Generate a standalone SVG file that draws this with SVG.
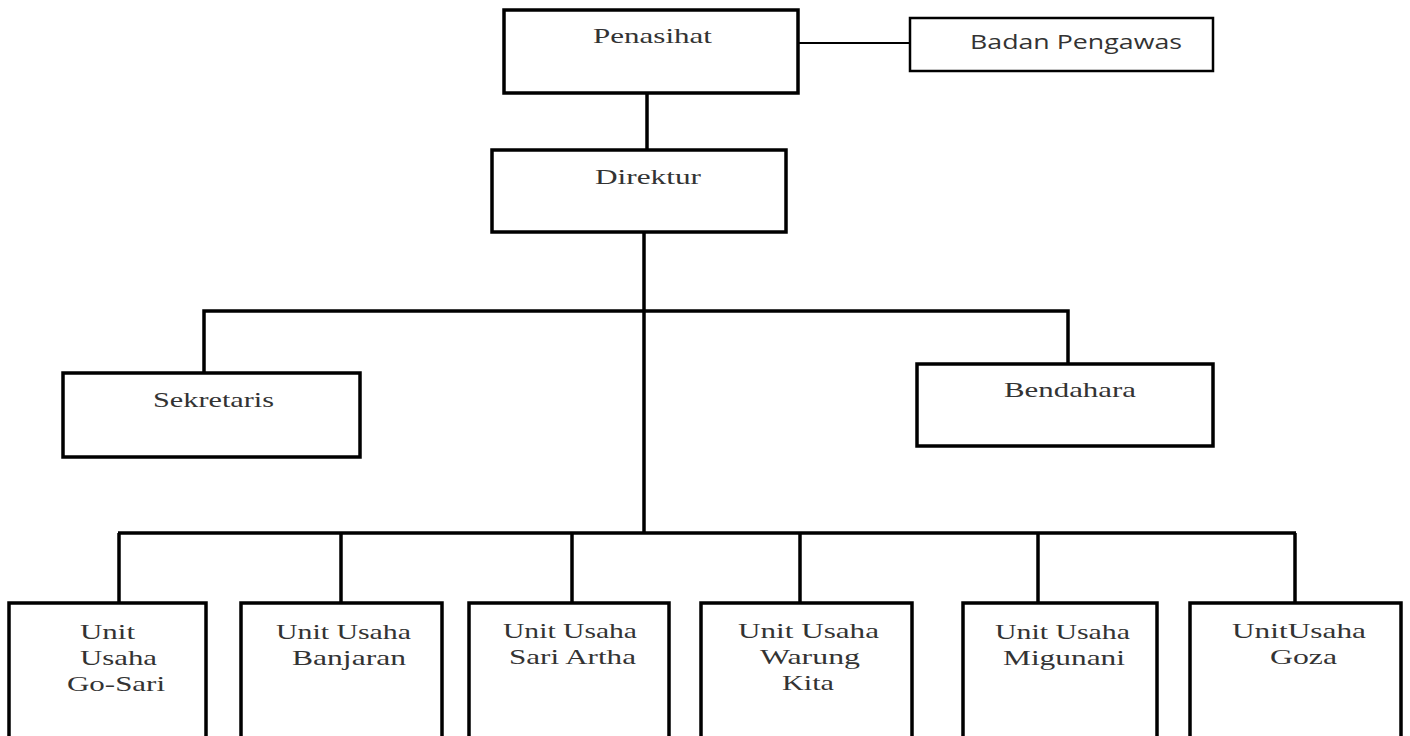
<svg xmlns="http://www.w3.org/2000/svg" width="1410" height="736" viewBox="0 0 1410 736">
<style>
.box{fill:#fff;stroke:#000;stroke-width:3.5}
.thin{fill:#fff;stroke:#000;stroke-width:2.5}
.ln{stroke:#000;stroke-width:3.5;fill:none}
.ln2{stroke:#000;stroke-width:2;fill:none}
.t{font-family:"Liberation Serif","Times New Roman",serif;font-size:21px;fill:#333}
.s{font-family:"Open Sans","Liberation Sans",Arial,sans-serif;font-size:20px;fill:#333}
</style>
<rect width="1410" height="736" fill="#fff"/>
<g id="connectors">
<line class="ln2" x1="798" y1="43" x2="916" y2="43"/>
<line class="ln" x1="647" y1="93" x2="647" y2="150"/>
<line class="ln" x1="644" y1="232" x2="644" y2="533"/>
<polyline class="ln" points="204,373 204,311 1068,311 1068,364"/>
<line class="ln" x1="118" y1="533" x2="1296" y2="533"/>
<line class="ln" x1="119" y1="533" x2="119" y2="603"/>
<line class="ln" x1="341" y1="533" x2="341" y2="603"/>
<line class="ln" x1="572" y1="533" x2="572" y2="603"/>
<line class="ln" x1="800" y1="533" x2="800" y2="603"/>
<line class="ln" x1="1038" y1="533" x2="1038" y2="603"/>
<line class="ln" x1="1295" y1="533" x2="1295" y2="603"/>
</g>
<g id="penasihat">
<rect class="box" x="504" y="10" width="294" height="83"/>
<text class="t" transform="scale(1.45,1)" x="408.97" y="43" textLength="82.07" lengthAdjust="spacingAndGlyphs">Penasihat</text>
</g>
<g id="badan-pengawas">
<rect class="thin" x="910" y="18" width="303" height="53"/>
<text class="s" transform="scale(1.35,1)" x="718.52" y="49" textLength="157.04" lengthAdjust="spacingAndGlyphs">Badan Pengawas</text>
</g>
<g id="direktur">
<rect class="box" x="492" y="150" width="294" height="82"/>
<text class="t" transform="scale(1.45,1)" x="410.34" y="184" textLength="73.10" lengthAdjust="spacingAndGlyphs">Direktur</text>
</g>
<g id="sekretaris">
<rect class="box" x="63" y="373" width="297" height="84"/>
<text class="t" transform="scale(1.45,1)" x="105.52" y="407" textLength="83.45" lengthAdjust="spacingAndGlyphs">Sekretaris</text>
</g>
<g id="bendahara">
<rect class="box" x="917" y="364" width="296" height="82"/>
<text class="t" transform="scale(1.45,1)" x="692.41" y="397" textLength="91.03" lengthAdjust="spacingAndGlyphs">Bendahara</text>
</g>
<g id="unit-gosari">
<rect class="box" x="9" y="603" width="197" height="140"/>
<g transform="scale(1.45,1)">
<text class="t" x="55.17" y="639" textLength="37.93" lengthAdjust="spacingAndGlyphs">Unit</text>
<text class="t" x="55.17" y="665" textLength="53.10" lengthAdjust="spacingAndGlyphs">Usaha</text>
<text class="t" x="46.21" y="691" textLength="67.59" lengthAdjust="spacingAndGlyphs">Go-Sari</text>
</g>
</g>
<g id="unit-banjaran">
<rect class="box" x="241" y="603" width="201" height="140"/>
<g transform="scale(1.45,1)">
<text class="t" x="190.34" y="639" textLength="93.10" lengthAdjust="spacingAndGlyphs">Unit Usaha</text>
<text class="t" x="201.38" y="665" textLength="78.62" lengthAdjust="spacingAndGlyphs">Banjaran</text>
</g>
</g>
<g id="unit-sari-artha">
<rect class="box" x="469" y="603" width="200" height="140"/>
<g transform="scale(1.45,1)">
<text class="t" x="346.90" y="638" textLength="92.41" lengthAdjust="spacingAndGlyphs">Unit Usaha</text>
<text class="t" x="351.03" y="664" textLength="87.59" lengthAdjust="spacingAndGlyphs">Sari Artha</text>
</g>
</g>
<g id="unit-warung-kita">
<rect class="box" x="701" y="603" width="211" height="140"/>
<g transform="scale(1.45,1)">
<text class="t" x="508.97" y="638" textLength="97.24" lengthAdjust="spacingAndGlyphs">Unit Usaha</text>
<text class="t" x="524.14" y="664" textLength="68.97" lengthAdjust="spacingAndGlyphs">Warung</text>
<text class="t" x="539.31" y="690" textLength="35.86" lengthAdjust="spacingAndGlyphs">Kita</text>
</g>
</g>
<g id="unit-migunani">
<rect class="box" x="963" y="603" width="194" height="140"/>
<g transform="scale(1.45,1)">
<text class="t" x="686.21" y="639" textLength="93.10" lengthAdjust="spacingAndGlyphs">Unit Usaha</text>
<text class="t" x="691.72" y="665" textLength="84.14" lengthAdjust="spacingAndGlyphs">Migunani</text>
</g>
</g>
<g id="unit-goza">
<rect class="box" x="1190" y="603" width="211" height="140"/>
<g transform="scale(1.45,1)">
<text class="t" x="849.66" y="638" textLength="92.41" lengthAdjust="spacingAndGlyphs">UnitUsaha</text>
<text class="t" x="875.86" y="664" textLength="46.21" lengthAdjust="spacingAndGlyphs">Goza</text>
</g>
</g>
</svg>
